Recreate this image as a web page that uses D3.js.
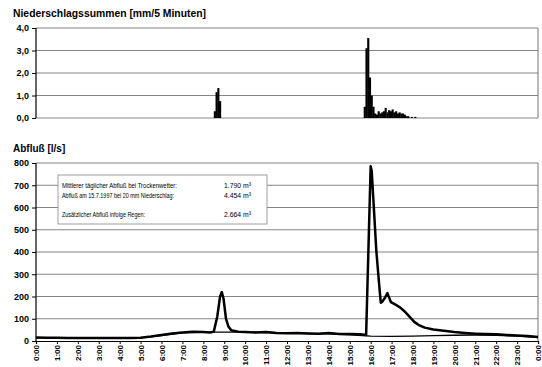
<!DOCTYPE html>
<html>
<head>
<meta charset="utf-8">
<script src="https://cdn.jsdelivr.net/npm/d3@7"></script>
<style>
  body { margin: 0; background: #fff; }
  svg { display: block; font-family: "Liberation Sans", Arial, sans-serif; }
</style>
</head>
<body>
<div id="chart"></div>
<script>
// Niederschlag, 5-Minuten-Summen (Beginn des Intervalls, hh:mm) in mm
var rainTimes = ['8:30', '8:35', '8:40', '8:45',
  '15:40', '15:45', '15:50', '15:55', '16:00', '16:05', '16:10', '16:15', '16:20', '16:25',
  '16:30', '16:35', '16:40', '16:45', '16:50', '16:55', '17:00', '17:05', '17:10', '17:15',
  '17:20', '17:25', '17:30', '17:35', '17:40', '17:45', '17:55', '18:05'];
var rainValues = [0.3, 1.15, 1.33, 0.75,
  0.5, 3.1, 3.55, 1.8, 1.0, 0.5, 0.2, 0.15, 0.3, 0.2,
  0.25, 0.3, 0.45, 0.25, 0.35, 0.3, 0.38, 0.25, 0.3, 0.2,
  0.25, 0.2, 0.2, 0.15, 0.08, 0.08, 0.05, 0.05];

// Abfluss am 15.7.1997 in l/s
var flowTimes = ['0:00', '0:30', '1:00', '1:30', '2:00', '2:30', '3:00', '3:30', '4:00', '4:30',
  '5:00', '5:30', '6:00', '6:30', '7:00', '7:30', '8:00', '8:20', '8:30', '8:40', '8:48', '8:53',
  '8:58', '9:05', '9:12', '9:20', '9:40', '10:00', '10:30', '11:00', '11:30', '12:00', '12:30',
  '13:00', '13:30', '14:00', '14:30', '15:00', '15:30', '15:47', '16:00', '16:03', '16:08',
  '16:16', '16:24', '16:29', '16:34', '16:40', '16:48', '16:53', '16:58', '17:10', '17:25',
  '17:36', '17:50', '18:05', '18:20', '18:35', '19:00', '19:30', '20:00', '20:30', '21:00',
  '21:30', '22:00', '22:30', '23:00', '23:30', '24:00'];
var flowValues = [16, 15, 15, 14, 14, 13, 13, 14, 13, 14,
  15, 20, 27, 34, 38, 42, 40, 38, 42, 110, 200, 220,
  190, 100, 65, 48, 42, 40, 38, 40, 36, 35, 36,
  34, 33, 36, 32, 31, 30, 27, 785, 765, 630,
  410, 260, 172, 178, 192, 215, 195, 175, 165, 150,
  135, 112, 86, 70, 60, 52, 46, 40, 36, 33,
  31, 30, 27, 25, 22, 18];

// mittlerer Trockenwetterabfluss in l/s (stuendlich)
var dryHours = [0, 1, 2, 3, 4, 5, 6, 7, 8, 9, 10, 11, 12, 13, 14, 15, 16, 17, 18, 19, 20, 21, 22, 23, 24];
var dryValues = [15, 14, 13, 13, 13, 14, 25, 37, 40, 40, 40, 38, 36, 34, 32, 28, 22, 21, 22, 24, 26, 27, 26, 22, 16];

var rainTicks = [0, 1, 2, 3, 4];
var flowTicks = [0, 100, 200, 300, 400, 500, 600, 700, 800];
var hourTicks = d3.range(0, 25);

var legendRows = [
  ['Mittlerer täglicher Abfluß bei Trockenwetter:', '1.790 m³'],
  ['Abfluß am 15.7.1997 bei 20 mm Niederschlag:', '4.454 m³'],
  ['Zusätzlicher Abfluß infolge Regen:', '2.664 m³']
];

function toHours(s) {
  var p = s.split(':');
  return +p[0] + (+p[1]) / 60;
}

var width = 542, height = 367;
var left = 36, right = 538;

var svg = d3.select('#chart').append('svg')
  .attr('width', width)
  .attr('height', height);

var x = d3.scaleLinear().domain([0, 24]).range([left, right]);
var fmtComma = d3.format('.1f');

// ---------- Niederschlag ----------
var yRain = d3.scaleLinear().domain([0, 4]).range([118, 28]);

svg.append('text')
  .attr('x', 13).attr('y', 17)
  .style('font-size', '10px').style('font-weight', 'bold')
  .attr('textLength', 193).attr('lengthAdjust', 'spacingAndGlyphs')
  .text('Niederschlagssummen [mm/5 Minuten]');

svg.append('g').selectAll('line').data(rainTicks)
  .enter().append('line')
    .attr('x1', left).attr('x2', right)
    .attr('y1', function(d) { return yRain(d); })
    .attr('y2', function(d) { return yRain(d); })
    .attr('stroke', '#777').attr('stroke-width', 0.9);

svg.append('line')
  .attr('x1', right).attr('x2', right)
  .attr('y1', yRain(4)).attr('y2', yRain(0))
  .attr('stroke', '#777');

var rainBin = 5 / 60;
svg.append('g').selectAll('rect').data(rainValues)
  .enter().append('rect')
    .attr('x', function(d, i) { return x(toHours(rainTimes[i])); })
    .attr('width', function(d, i) { return x(toHours(rainTimes[i]) + rainBin) - x(toHours(rainTimes[i])) + 0.4; })
    .attr('y', function(d) { return yRain(d); })
    .attr('height', function(d) { return yRain(0) - yRain(d); })
    .attr('fill', '#000');

var rainAxis = svg.append('g')
  .attr('transform', 'translate(' + left + ',0)')
  .call(d3.axisLeft(yRain).tickValues(rainTicks).tickSize(4).tickPadding(3)
    .tickFormat(function(d) { return fmtComma(d).replace('.', ','); }));

// ---------- Abfluss ----------
var yFlow = d3.scaleLinear().domain([0, 800]).range([341, 163]);

svg.append('text')
  .attr('x', 13).attr('y', 152)
  .style('font-size', '10px').style('font-weight', 'bold')
  .text('Abfluß [l/s]');

svg.append('g').selectAll('line').data(flowTicks.slice(1))
  .enter().append('line')
    .attr('x1', left).attr('x2', right)
    .attr('y1', function(d) { return yFlow(d); })
    .attr('y2', function(d) { return yFlow(d); })
    .attr('stroke', '#777').attr('stroke-width', 0.9);

svg.append('line')
  .attr('x1', right).attr('x2', right)
  .attr('y1', yFlow(800)).attr('y2', yFlow(0))
  .attr('stroke', '#777');

var line = d3.line()
  .x(function(d) { return x(d[0]); })
  .y(function(d) { return yFlow(d[1]); });

svg.append('path')
  .datum(dryHours.map(function(h, i) { return [h, dryValues[i]]; }))
  .attr('d', line)
  .attr('fill', 'none').attr('stroke', '#000').attr('stroke-width', 1.4);

svg.append('path')
  .datum(flowTimes.map(function(t, i) { return [toHours(t), flowValues[i]]; }))
  .attr('d', line)
  .attr('fill', 'none').attr('stroke', '#000').attr('stroke-width', 2.5)
  .attr('stroke-linejoin', 'round');

var flowAxis = svg.append('g')
  .attr('transform', 'translate(' + left + ',0)')
  .call(d3.axisLeft(yFlow).tickValues(flowTicks).tickSize(4).tickPadding(3));

var timeAxis = svg.append('g')
  .attr('transform', 'translate(0,' + yFlow(0) + ')')
  .call(d3.axisBottom(x).tickValues(hourTicks).tickSize(3)
    .tickFormat(function(d) { return (d % 24) + ':00'; }));

[rainAxis, flowAxis, timeAxis].forEach(function(g) {
  g.select('.domain').attr('stroke', '#000').attr('stroke-width', 1.2);
  g.selectAll('.tick line').attr('stroke', '#000');
  g.selectAll('text')
    .style('font-family', '"Liberation Sans", Arial, sans-serif')
    .style('font-size', '9px').style('font-weight', 'bold').attr('fill', '#000');
});
rainAxis.select('.domain').attr('d', 'M0,' + yRain(4) + 'V' + yRain(0));
flowAxis.select('.domain').attr('d', 'M0,' + yFlow(800) + 'V' + yFlow(0));

// rotated hour labels, small enough to stay inside the picture
timeAxis.selectAll('text')
  .attr('transform', 'rotate(-90)')
  .attr('x', -4).attr('y', 0).attr('dy', '0.35em')
  .style('text-anchor', 'end')
  .style('font-size', '8px');

// ---------- Legendenkasten ----------
var box = svg.append('g');
box.append('rect')
  .attr('x', 58).attr('y', 175).attr('width', 209).attr('height', 49)
  .attr('fill', '#fff').attr('stroke', '#888').attr('stroke-width', 0.8);

var rowY = [188, 198, 217];
box.selectAll('text.lbl').data(legendRows)
  .enter().append('text')
    .attr('class', 'lbl')
    .attr('x', 62).attr('y', function(d, i) { return rowY[i]; })
    .style('font-size', '7.5px')
    .attr('textLength', function(d, i) { return [115, 112, 83][i]; })
    .attr('lengthAdjust', 'spacingAndGlyphs')
    .text(function(d) { return d[0]; });

box.selectAll('text.val').data(legendRows)
  .enter().append('text')
    .attr('class', 'val')
    .attr('x', 224).attr('y', function(d, i) { return rowY[i]; })
    .style('font-size', '7.5px')
    .attr('textLength', 27)
    .attr('lengthAdjust', 'spacingAndGlyphs')
    .text(function(d) { return d[1]; });
</script>
</body>
</html>
